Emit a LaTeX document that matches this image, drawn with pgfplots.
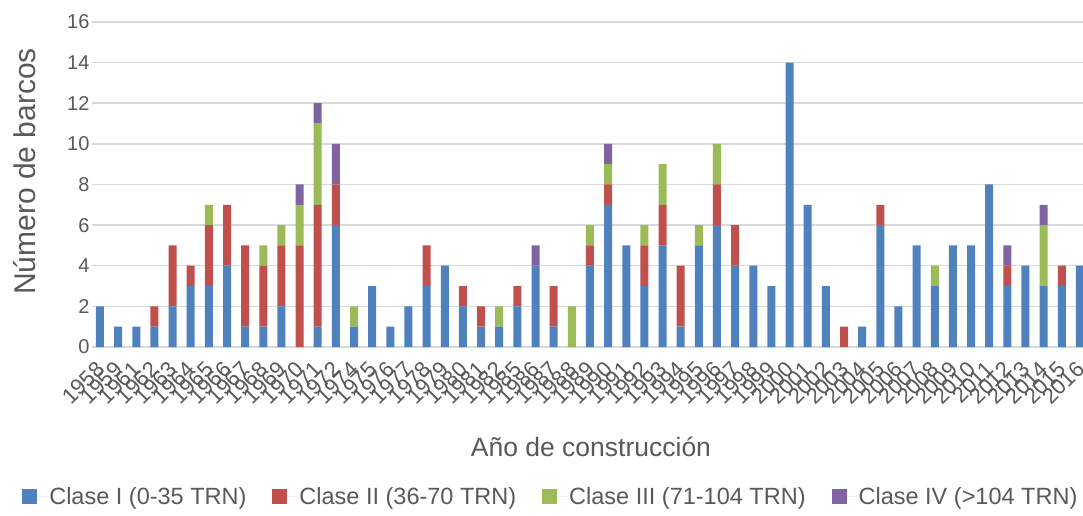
\documentclass[border=0pt]{standalone}
\usepackage{pgfplots}
\pgfplotsset{compat=1.18}
\usepackage{pgfplotstable}
\usepackage{fontspec}
\setmainfont{Liberation Sans}

\definecolor{claseI}{HTML}{4F81BD}
\definecolor{claseII}{HTML}{C0504D}
\definecolor{claseIII}{HTML}{9BBB59}
\definecolor{claseIV}{HTML}{8064A2}
\definecolor{gridgray}{HTML}{D9D9D9}
\definecolor{txtgray}{HTML}{595959}

% Number of vessels per construction year and class
\pgfplotstableread{
i  year a  b c d
0  1958 2  0 0 0
1  1959 1  0 0 0
2  1961 1  0 0 0
3  1962 1  1 0 0
4  1963 2  3 0 0
5  1964 3  1 0 0
6  1965 3  3 1 0
7  1966 4  3 0 0
8  1967 1  4 0 0
9  1968 1  3 1 0
10 1969 2  3 1 0
11 1970 0  5 2 1
12 1971 1  6 4 1
13 1972 6  2 0 2
14 1974 1  0 1 0
15 1975 3  0 0 0
16 1976 1  0 0 0
17 1977 2  0 0 0
18 1978 3  2 0 0
19 1979 4  0 0 0
20 1980 2  1 0 0
21 1981 1  1 0 0
22 1982 1  0 1 0
23 1985 2  1 0 0
24 1986 4  0 0 1
25 1987 1  2 0 0
26 1988 0  0 2 0
27 1989 4  1 1 0
28 1990 7  1 1 1
29 1991 5  0 0 0
30 1992 3  2 1 0
31 1993 5  2 2 0
32 1994 1  3 0 0
33 1995 5  0 1 0
34 1996 6  2 2 0
35 1997 4  2 0 0
36 1998 4  0 0 0
37 1999 3  0 0 0
38 2000 14 0 0 0
39 2001 7  0 0 0
40 2002 3  0 0 0
41 2003 0  1 0 0
42 2004 1  0 0 0
43 2005 6  1 0 0
44 2006 2  0 0 0
45 2007 5  0 0 0
46 2008 3  0 1 0
47 2009 5  0 0 0
48 2010 5  0 0 0
49 2011 8  0 0 0
50 2012 3  1 0 1
51 2013 4  0 0 0
52 2014 3  0 3 1
53 2015 3  1 0 0
54 2016 4  0 0 0
}\data

\begin{document}
\begin{tikzpicture}
\begin{axis}[
  name=ax, at={(0,0)}, anchor=south west,
  scale only axis, width=991pt, height=325pt,
  ybar stacked, bar width=8pt,
  xmin=-0.44, xmax=54.17, ymin=0, ymax=16,
  ytick={0,2,...,16},
  xtick=data, xticklabels from table={\data}{year},
  /pgf/number format/assume math mode=true,
  yticklabel style={font=\fontsize{20}{20}\selectfont, text=txtgray, xshift=1pt},
  xticklabel style={font=\fontsize{22}{22}\selectfont, text=txtgray, xshift=3pt, yshift=-16pt, rotate=45, anchor=east},
  axis line style={draw=none}, major tick style={draw=none},
  ymajorgrids, grid style={color=gridgray, line width=1.5pt},
  ylabel={Número de barcos},
  ylabel style={font=\fontsize{30}{30}\selectfont, text=txtgray, at={(axis description cs:-0.0676,0.54)}, anchor=center},
  xlabel={Año de construcción},
  xlabel style={font=\fontsize{26.5}{26.5}\selectfont, text=txtgray, at={(axis description cs:0.5035,-0.3077)}, anchor=center},
  legend columns=-1,
  legend style={draw=none, fill=none, at={(0.463,-0.4615)}, anchor=center,
    font=\fontsize{23.5}{23.5}\selectfont, text=txtgray,
    /tikz/every even column/.append style={column sep=24pt}},
  legend image code/.code={\fill[#1] (0pt,-7pt) rectangle (15pt,8pt); \path (0pt,0pt) -- (25pt,0pt);},
]
\addplot[fill=claseI, draw=none] table[x=i, y=a] {\data};
\addplot[fill=claseII, draw=none] table[x=i, y=b] {\data};
\addplot[fill=claseIII, draw=none] table[x=i, y=c] {\data};
\addplot[fill=claseIV, draw=none] table[x=i, y=d] {\data};
\legend{Clase I (0-35 TRN), Clase II (36-70 TRN), Clase III (71-104 TRN), Clase IV (>104 TRN)}
\end{axis}
\pgfresetboundingbox
\path[use as bounding box] (-92pt,-169pt) rectangle (991pt,347pt);
\end{tikzpicture}
\end{document}
